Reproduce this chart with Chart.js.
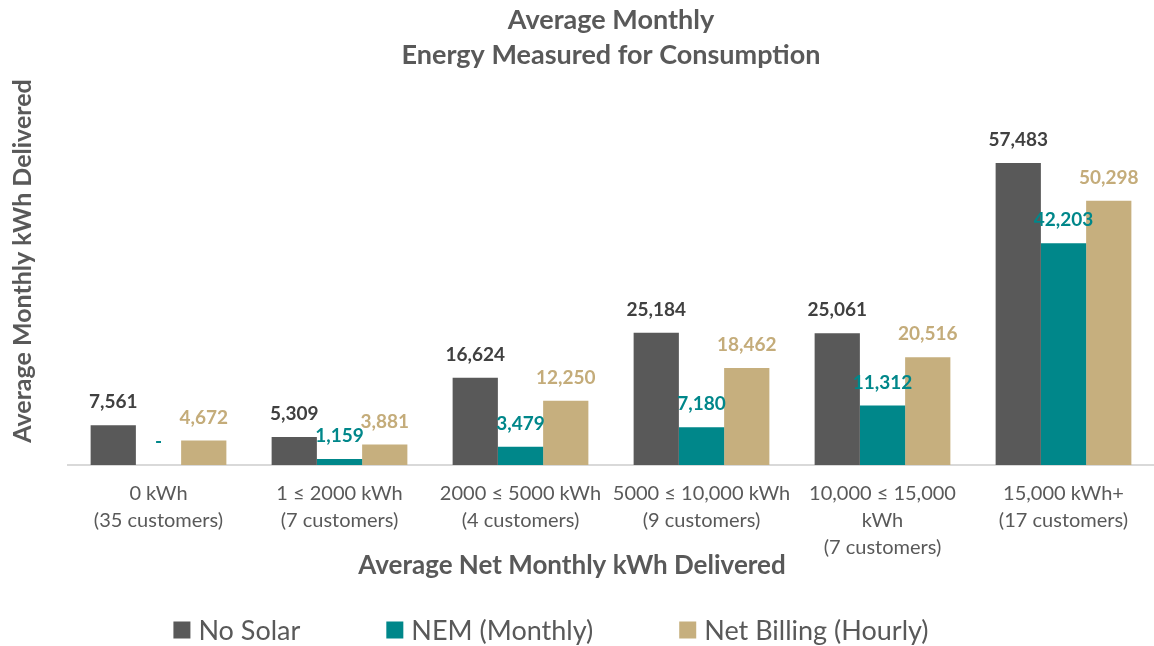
<!DOCTYPE html>
<html>
<head>
<meta charset="utf-8">
<script src="https://cdn.jsdelivr.net/npm/chart.js@4"></script>
<style>
  html, body { margin: 0; padding: 0; background: #fff; }
  #wrap { width: 1154px; height: 646px; }
</style>
</head>
<body>
<div id="wrap"><canvas id="energyChart" width="1154" height="646"></canvas></div>
<script>
// categories (multi-line tick labels)
const categories = [
  ['0 kWh', '(35 customers)'],
  ['1 \u2264 2000 kWh', '(7 customers)'],
  ['2000 \u2264 5000 kWh', '(4 customers)'],
  ['5000 \u2264 10,000 kWh', '(9 customers)'],
  ['10,000 \u2264 15,000', 'kWh', '(7 customers)'],
  ['15,000 kWh+', '(17 customers)']
];

// series values
const noSolar = [7561, 5309, 16624, 25184, 25061, 57483];
const nemMonthly = [0, 1159, 3479, 7180, 11312, 42203];
const netBilling = [4672, 3881, 12250, 18462, 20516, 50298];

const seriesNames = ['No Solar', 'NEM (Monthly)', 'Net Billing (Hourly)'];
const barColors = ['#595959', '#00878A', '#C6AF7E'];
const labelColors = ['#404040', '#00878A', '#C4AC7A'];

const FONT = 'Lato';
const GREY = '#595959';

// value labels above each bar
const valueLabels = {
  id: 'valueLabels',
  afterDatasetsDraw(chart) {
    const { ctx } = chart;
    ctx.save();
    ctx.font = 'bold 19px ' + FONT;
    ctx.textAlign = 'center';
    ctx.textBaseline = 'middle';
    chart.data.datasets.forEach((ds, i) => {
      const meta = chart.getDatasetMeta(i);
      ctx.fillStyle = labelColors[i];
      meta.data.forEach((bar, j) => {
        const v = ds.data[j];
        const txt = v === 0 ? '-' : v.toLocaleString('en-US');
        ctx.fillText(txt, bar.x, bar.y - 23);
      });
    });
    ctx.restore();
  }
};

// axis titles + legend spread out along the bottom
const axisTexts = {
  id: 'axisTexts',
  afterDraw(chart) {
    const { ctx } = chart;
    ctx.save();
    ctx.textBaseline = 'middle';
    ctx.textAlign = 'center';
    ctx.fillStyle = GREY;

    ctx.font = 'bold 26px ' + FONT;
    ctx.fillText('Average Net Monthly kWh Delivered', 572, 566);

    ctx.save();
    ctx.translate(23, 261);
    ctx.rotate(-Math.PI / 2);
    ctx.font = 'bold 25px ' + FONT;
    ctx.fillText('Average Monthly kWh Delivered', 0, 0);
    ctx.restore();

    const box = 17, gap = 8, space = 86;
    ctx.font = '27px ' + FONT;
    ctx.textAlign = 'left';
    const widths = seriesNames.map(n => box + gap + ctx.measureText(n).width);
    const total = widths.reduce((a, b) => a + b, 0) + space * (widths.length - 1);
    let x = 551 - total / 2;
    const y = 630;
    seriesNames.forEach((n, i) => {
      ctx.fillStyle = barColors[i];
      ctx.fillRect(x, y - box / 2, box, box);
      ctx.fillStyle = GREY;
      ctx.fillText(n, x + box + gap, y + 1);
      x += widths[i] + space;
    });
    ctx.restore();
  }
};

const initChart = () => {
  const ctx = document.getElementById('energyChart').getContext('2d');
  new Chart(ctx, {
    type: 'bar',
    data: {
      labels: categories,
      datasets: seriesNames.map((name, i) => ({
        label: name,
        data: [noSolar, nemMonthly, netBilling][i],
        backgroundColor: barColors[i],
        categoryPercentage: 0.75,
        barPercentage: 1
      }))
    },
    options: {
      responsive: false,
      animation: false,
      layout: { padding: { left: 68, right: 0, top: 0, bottom: 70 } },
      plugins: {
        legend: { display: false },
        tooltip: { enabled: false },
        title: {
          display: true,
          fullSize: false,
          text: ['Average Monthly', 'Energy Measured for Consumption'],
          color: GREY,
          font: { family: FONT, size: 27, weight: 'bold', lineHeight: 1.3 },
          padding: { top: 3, bottom: 24 }
        }
      },
      scales: {
        x: {
          grid: { display: false, drawTicks: false },
          border: { display: true, color: '#D9D9D9', width: 2 },
          ticks: {
            color: GREY,
            padding: 15,
            maxRotation: 0,
            autoSkip: false,
            font: { family: FONT, size: 20, lineHeight: '27px' }
          }
        },
        y: {
          display: false,
          min: 0,
          max: 70000
        }
      }
    },
    plugins: [valueLabels, axisTexts]
  });
};

document.addEventListener('DOMContentLoaded', initChart);
</script>
</body>
</html>
